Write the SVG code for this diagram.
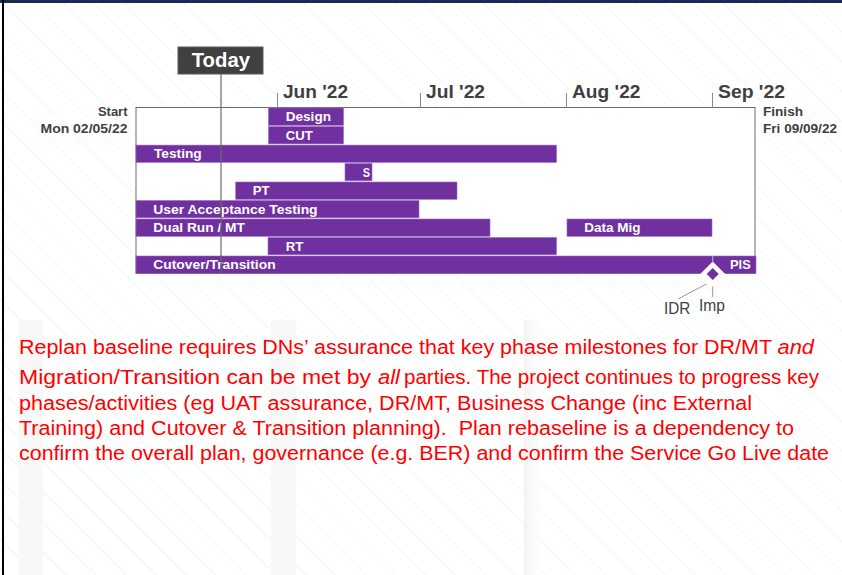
<svg xmlns="http://www.w3.org/2000/svg" width="842" height="575" viewBox="0 0 842 575">
<defs>
<pattern id="diag" patternUnits="userSpaceOnUse" width="21.2" height="21.2" patternTransform="rotate(-45)">
<line x1="0.5" y1="0" x2="0.5" y2="21.2" stroke="#ebf8f8" stroke-width="1"/>
</pattern>
<linearGradient id="band3" x1="0" x2="1" y1="0" y2="0">
<stop offset="0" stop-color="#f2f2f2"/>
<stop offset="1" stop-color="#ffffff" stop-opacity="0"/>
</linearGradient>
</defs>
<style>
.bar{fill:#7030a0;stroke:#9a6cc0;stroke-width:0.6}
.bl{font-family:"Liberation Sans",Arial,sans-serif;font-weight:bold;font-size:13px;fill:#ffffff}
.mon{font-family:"Liberation Sans",Arial,sans-serif;font-weight:bold;font-size:19px;fill:#404040}
.side{font-family:"Liberation Sans",Arial,sans-serif;font-weight:bold;font-size:13px;fill:#404040}
.ms{font-family:"Liberation Sans",Arial,sans-serif;font-size:16px;fill:#404040}
.para{font-family:"Liberation Sans",Arial,sans-serif;font-size:20px;fill:#ff0000}
.tick{stroke:#8a8a8a;stroke-width:1}
.lead{stroke:#9a9a9a;stroke-width:1;fill:none}
</style>
<rect width="842" height="575" fill="#ffffff"/>
<rect width="842" height="575" fill="url(#diag)"/>
<rect x="19" y="320" width="24" height="255" fill="#f5f5f5" opacity="0.75"/>
<rect x="271" y="320" width="25" height="255" fill="#f5f5f5" opacity="0.75"/>
<rect x="524" y="320" width="22" height="255" fill="url(#band3)"/>
<rect x="0" y="0" width="842" height="3" fill="#1c2857"/>
<rect x="2" y="0" width="2" height="575" fill="#000000"/>

<g id="frame">
<rect x="136" y="107.5" width="619" height="166" fill="#ffffff" stroke="#6a6a6a" stroke-width="1"/>
</g>

<g id="timescale">
<line class="tick" x1="277.5" y1="93" x2="277.5" y2="107.5"/>
<line class="tick" x1="420.5" y1="93" x2="420.5" y2="107.5"/>
<line class="tick" x1="566.5" y1="93" x2="566.5" y2="107.5"/>
<line class="tick" x1="712.5" y1="93" x2="712.5" y2="107.5"/>
<text class="mon" x="283" y="98" textLength="65" lengthAdjust="spacingAndGlyphs">Jun '22</text>
<text class="mon" x="426" y="98" textLength="59" lengthAdjust="spacingAndGlyphs">Jul '22</text>
<text class="mon" x="572" y="98" textLength="68.5" lengthAdjust="spacingAndGlyphs">Aug '22</text>
<text class="mon" x="718" y="98" textLength="67" lengthAdjust="spacingAndGlyphs">Sep '22</text>
</g>

<g id="start">
<text class="side" x="127.5" y="116" text-anchor="end">Start</text>
<text class="side" x="127.5" y="133" text-anchor="end" textLength="87" lengthAdjust="spacingAndGlyphs">Mon 02/05/22</text>
</g>
<g id="finish">
<text class="side" x="763" y="116" textLength="40" lengthAdjust="spacingAndGlyphs">Finish</text>
<text class="side" x="763" y="133" textLength="74" lengthAdjust="spacingAndGlyphs">Fri 09/09/22</text>
</g>

<g id="design"><rect class="bar" x="268.5" y="108" width="75" height="17.3"/><text class="bl" x="285.7" y="121.3" textLength="45.3" lengthAdjust="spacingAndGlyphs">Design</text></g>
<g id="cut"><rect class="bar" x="268.5" y="126.6" width="75" height="17.3"/><text class="bl" x="285.7" y="139.6" textLength="27" lengthAdjust="spacingAndGlyphs">CUT</text></g>
<g id="testing"><rect class="bar" x="136" y="145.1" width="420.5" height="17.3"/><text class="bl" x="154" y="158" textLength="47.7" lengthAdjust="spacingAndGlyphs">Testing</text></g>
<g id="s"><rect class="bar" x="345" y="163.5" width="27" height="17.3"/><text class="bl" x="362.7" y="176.5" textLength="7.3" lengthAdjust="spacingAndGlyphs">S</text></g>
<g id="pt"><rect class="bar" x="235.7" y="182" width="221.3" height="17.3"/><text class="bl" x="252.7" y="195" textLength="16.7" lengthAdjust="spacingAndGlyphs">PT</text></g>
<g id="uat"><rect class="bar" x="136" y="200.5" width="283" height="17.3"/><text class="bl" x="153.3" y="213.5" textLength="164.3" lengthAdjust="spacingAndGlyphs">User Acceptance Testing</text></g>
<g id="dualrun"><rect class="bar" x="136" y="219" width="354" height="17.3"/><text class="bl" x="153.3" y="232" textLength="91.7" lengthAdjust="spacingAndGlyphs">Dual Run / MT</text></g>
<g id="datamig"><rect class="bar" x="567" y="219" width="145" height="17.3"/><text class="bl" x="584.3" y="232" textLength="56.3" lengthAdjust="spacingAndGlyphs">Data Mig</text></g>
<g id="rt"><rect class="bar" x="268" y="237.5" width="288.5" height="17.3"/><text class="bl" x="285.7" y="250.5" textLength="17.7" lengthAdjust="spacingAndGlyphs">RT</text></g>
<g id="cutover"><rect class="bar" x="136" y="256" width="620" height="17.5"/><text class="bl" x="153.3" y="269" textLength="122.3" lengthAdjust="spacingAndGlyphs">Cutover/Transition</text><text class="bl" x="730" y="269" textLength="20.7" lengthAdjust="spacingAndGlyphs">PIS</text></g>

<g id="today">
<rect x="178" y="47" width="85" height="27" fill="#404040" stroke="#5a5a5a" stroke-width="1"/>
<text x="191.7" y="67" font-family="Liberation Sans,Arial,sans-serif" font-weight="bold" font-size="20" fill="#ffffff" textLength="58.3" lengthAdjust="spacingAndGlyphs">Today</text>
</g>

<g id="milestone">
<polygon points="712.7,261.5 725.2,274 712.7,286.5 700.2,274" fill="#ffffff"/>
<polygon points="712.7,268 718.7,274 712.7,280 706.7,274" fill="#7030a0"/>
<text class="ms" x="664" y="314" font-size="17" textLength="26.3" lengthAdjust="spacingAndGlyphs">IDR</text>
<text class="ms" x="699" y="311" textLength="26" lengthAdjust="spacingAndGlyphs">Imp</text>
</g>

<g id="connectors">
<line x1="221" y1="74" x2="221" y2="273.5" stroke="#6a6a6a" stroke-width="1.2"/>
<line x1="712.7" y1="256" x2="712.7" y2="263" stroke="#c4aee0" stroke-width="1"/>
<line class="lead" x1="706.5" y1="284" x2="678" y2="299"/>
<line class="lead" x1="712.7" y1="286.5" x2="712.7" y2="297"/>
</g>

<g id="note">
<text class="para" x="19" y="353.5" textLength="753" lengthAdjust="spacingAndGlyphs">Replan baseline requires DNs’ assurance that key phase milestones for DR/MT</text>
<text class="para" x="777.5" y="353.5" font-style="italic" textLength="36.5" lengthAdjust="spacingAndGlyphs">and</text>
<text class="para" x="19" y="383.5" textLength="352" lengthAdjust="spacingAndGlyphs">Migration/Transition can be met by</text>
<text class="para" x="378" y="383.5" font-style="italic" font-size="29" textLength="22" lengthAdjust="spacingAndGlyphs">all</text>
<text class="para" x="404" y="383.5" textLength="415" lengthAdjust="spacingAndGlyphs">parties. The project continues to progress key</text>
<text class="para" x="19" y="409.5" textLength="733" lengthAdjust="spacingAndGlyphs">phases/activities (eg UAT assurance, DR/MT, Business Change (inc External</text>
<text class="para" x="19" y="435" textLength="775" lengthAdjust="spacingAndGlyphs" xml:space="preserve">Training) and Cutover &amp; Transition planning).  Plan rebaseline is a dependency to</text>
<text class="para" x="19" y="459.5" textLength="810" lengthAdjust="spacingAndGlyphs">confirm the overall plan, governance (e.g. BER) and confirm the Service Go Live date</text>
</g>
</svg>
